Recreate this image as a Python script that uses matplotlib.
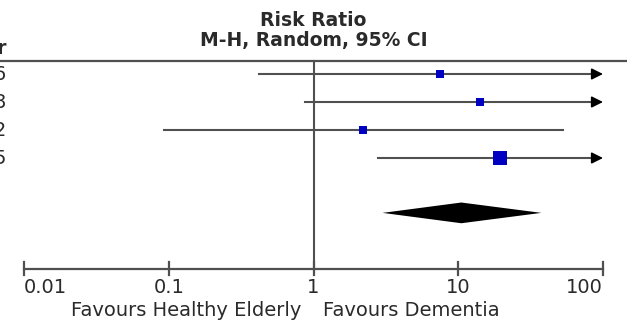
import numpy as np
import matplotlib.pyplot as plt

# studies (only the last digit of the year column is visible)
years = ['2006', '2008', '2012', '2015']
rr = [7.5, 14.2, 2.2, 19.5]
ci_low = [0.42, 0.87, 0.092, 2.8]
ci_high = [650.0, 420.0, 53.0, 160.0]
weights = [17.5, 19.0, 14.0, 49.5]

# pooled estimate
total_rr, total_low, total_high = 10.5, 3.0, 37.5

ticks = [0.01, 0.1, 1, 10, 100]
tick_labels = ['0.01', '0.1', '1', '10', '100']

line_col = '#505050'
box_col = '#0000c0'
txt_col = '#2a2a2a'

fig = plt.figure(figsize=(6.27, 3.23), dpi=100)
ax = fig.add_axes([0, 0, 1, 1])
ax.set_xscale('log')
dec = 579 / 4.0
ax.set_xlim(10**(-2 - 24 / dec), 10**(2 + 24 / dec))
ax.set_ylim(249 / 28.0, -74 / 28.0)
ax.axis('off')

# header
ax.text(1, -1.9, 'Risk Ratio', ha='center', va='center', fontsize=13.5, fontweight='bold', color=txt_col)
ax.text(1, -1.18, 'M-H, Random, 95% CI', ha='center', va='center', fontsize=13.5, fontweight='bold', color=txt_col)
ax.text(10**(-2 - 17 / dec), -0.72, 'Year', ha='right', va='baseline', fontsize=13.5, fontweight='bold', color=txt_col)
ax.plot([ax.get_xlim()[0], ax.get_xlim()[1]], [-0.46, -0.46], color=line_col, lw=1.6)

# line of no effect
ax.plot([1, 1], [-0.46, 7], color=line_col, lw=1.5)

for i in range(len(rr)):
    ax.text(10**(-2 - 17 / dec), i, years[i], ha='right', va='center', fontsize=14, color=txt_col)
    if ci_high[i] > ticks[-1]:
        ax.plot([ci_low[i], ticks[-1] * 0.9], [i, i], color=line_col, lw=1.5)
        ax.annotate('', xy=(ticks[-1], i), xytext=(ticks[-1] * 0.85, i),
                    arrowprops=dict(arrowstyle='-|>', color='black', lw=1.2, mutation_scale=17,
                                    shrinkA=0, shrinkB=0))
    else:
        ax.plot([ci_low[i], ci_high[i]], [i, i], color=line_col, lw=1.5)
    ax.plot(rr[i], i, 's', color=box_col, markersize=1.38 * np.sqrt(weights[i]), markeredgewidth=0)

# pooled diamond
ax.fill([total_low, total_rr, total_high, total_rr], [4.96, 4.59, 4.96, 5.33], color='black', lw=0)

# x axis
ax.plot([ticks[0], ticks[-1]], [6.96, 6.96], color=line_col, lw=1.6)
for t, lab in zip(ticks, tick_labels):
    ax.plot([t, t], [6.71, 7.18], color=line_col, lw=1.6)
    ha = 'center'
    if t == ticks[0]:
        ha = 'left'
    if t == ticks[-1]:
        ha = 'right'
    ax.text(t, 7.62, lab, ha=ha, va='center', fontsize=14, color=txt_col)

ax.text(0.83, 8.45, 'Favours Healthy Elderly', ha='right', va='center', fontsize=14, color=txt_col)
ax.text(1.17, 8.45, 'Favours Dementia', ha='left', va='center', fontsize=14, color=txt_col)

plt.savefig('out.png', dpi=100)
